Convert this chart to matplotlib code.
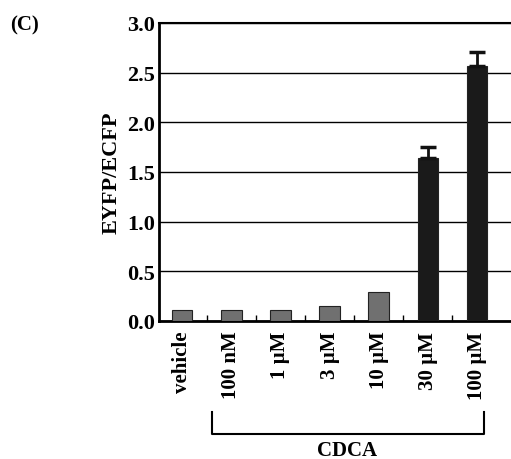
import numpy as np
import matplotlib.pyplot as plt

# data
labels = ['vehicle', '100 nM', '1 \u00b5M', '3 \u00b5M', '10 \u00b5M', '30 \u00b5M', '100 \u00b5M']
ratio = [0.11, 0.11, 0.11, 0.15, 0.29, 1.64, 2.57]
err = [0.0, 0.0, 0.0, 0.0, 0.0, 0.11, 0.14]
bar_colors = ['#707070', '#707070', '#707070', '#707070', '#707070', '#1a1a1a', '#1a1a1a']

plt.rcParams['font.family'] = ['Liberation Serif', 'DejaVu Serif']
plt.rcParams['font.weight'] = 'bold'

fig = plt.figure(figsize=(5.11, 4.6), dpi=100)
ax = fig.add_axes([159 / 511, 1 - 322 / 460, 1 - 159 / 511, (322 - 24) / 460])

x = np.arange(len(labels))
ax.bar(x, ratio, width=0.42, color=bar_colors, edgecolor='#222222', linewidth=0.8, zorder=3)
ax.errorbar(x[5:], ratio[5:], yerr=[np.zeros(2), err[5:]], fmt='none',
            ecolor='#111111', elinewidth=2, capsize=6, capthick=2.5, zorder=4)

ax.set_ylim(0, 3.0)
ax.set_xlim(-0.47, 6.69)
ax.set_yticks(np.arange(0, 3.01, 0.5))
ax.set_yticklabels([f'{v:.1f}' for v in np.arange(0, 3.01, 0.5)], fontsize=16, fontweight='bold')
ax.yaxis.grid(True, color='black', linewidth=1.0, zorder=0)
ax.set_axisbelow(True)

ax.set_xticks(x)
ax.set_xticklabels(labels, rotation=90, fontsize=15, fontweight='bold')
ax.tick_params(axis='x', length=0, pad=7)
ax.set_xticks(x[:-1] + 0.5, minor=True)
ax.tick_params(axis='x', which='minor', direction='in', length=4, width=1)
ax.tick_params(axis='y', length=0, pad=3)

ax.spines['right'].set_visible(False)
ax.spines['left'].set_linewidth(2)
ax.spines['bottom'].set_linewidth(2)
ax.spines['top'].set_linewidth(1.5)

ax.set_ylabel('EYFP/ECFP', fontsize=16, fontweight='bold', labelpad=4)

# bracket under CDCA concentrations
tr = ax.get_xaxis_transform()
ax.plot([0.6, 0.6, 6.15, 6.15], [-0.305, -0.378, -0.378, -0.305], color='black',
        linewidth=1.5, transform=tr, clip_on=False)
ax.text(3.35, -0.398, 'CDCA', transform=tr, ha='center', va='top',
        fontsize=15, fontweight='bold')

fig.text(10 / 511, 1 - 25 / 460, '(C)', fontsize=15, fontweight='bold', va='center')

fig.savefig('out.png', dpi=100)
